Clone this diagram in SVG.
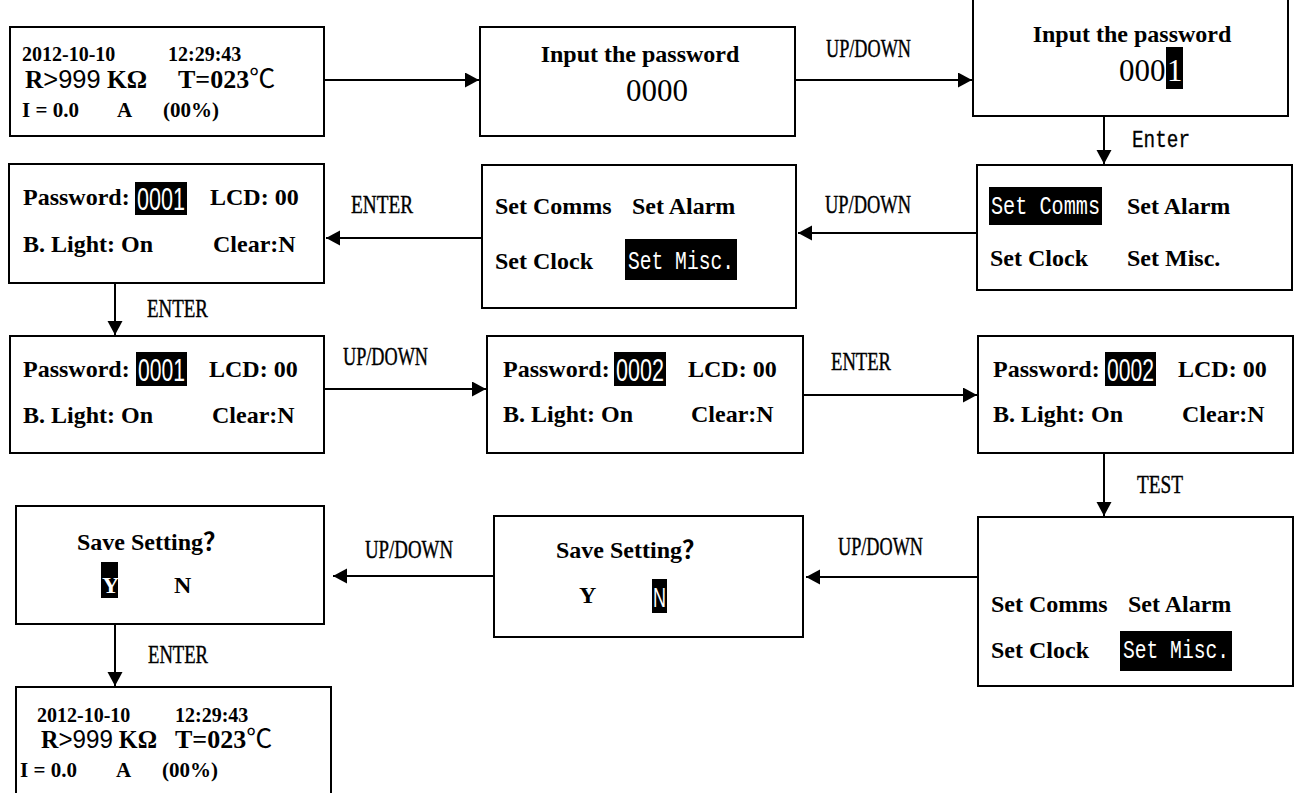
<svg xmlns="http://www.w3.org/2000/svg" width="1298" height="793" viewBox="0 0 1298 793">
<style>
.box{fill:#fff;stroke:#000;stroke-width:2}
.t{font-family:"Liberation Serif","Noto Sans CJK SC",serif;font-weight:bold;font-size:24px;fill:#000}
.r{font-weight:normal}
.lbl{font-family:"Liberation Serif",serif;font-size:25px;fill:#000;stroke:#000;stroke-width:0.4}
.mono{font-family:"Liberation Mono",monospace;font-size:23px;fill:#000;stroke:#000;stroke-width:0.3}
.hl{fill:#000}
.ht{fill:#fff;font-family:"Liberation Mono",monospace;font-size:25px}
.hn{fill:#fff;font-family:"Liberation Sans",sans-serif;font-size:31px}
.w{fill:#fff}
.conn{stroke:#000;stroke-width:2;fill:none;marker-end:url(#ah)}
</style>
<defs>
<marker id="ah" markerUnits="userSpaceOnUse" markerWidth="16" markerHeight="16" refX="14" refY="7.5" orient="auto">
<path d="M0,0 L14,7.5 L0,15 z" fill="#000"/>
</marker>
</defs>
<rect width="1298" height="793" fill="#fff"/>

<g id="connectors">
<path class="conn" d="M324,80 H479"/>
<path class="conn" d="M795,80 H972"/>
<text class="lbl" x="826" y="57" textLength="85" lengthAdjust="spacingAndGlyphs">UP/DOWN</text>
<path class="conn" d="M1104,116 V164"/>
<text class="mono" x="1132" y="147" textLength="58" lengthAdjust="spacingAndGlyphs">Enter</text>
<path class="conn" d="M977,233 H798"/>
<text class="lbl" x="825" y="213" textLength="86" lengthAdjust="spacingAndGlyphs">UP/DOWN</text>
<path class="conn" d="M482,238 H326"/>
<text class="lbl" x="351" y="213" textLength="62" lengthAdjust="spacingAndGlyphs">ENTER</text>
<path class="conn" d="M115,283 V335"/>
<text class="lbl" x="147" y="317" textLength="61" lengthAdjust="spacingAndGlyphs">ENTER</text>
<path class="conn" d="M324,389 H486"/>
<text class="lbl" x="343" y="365" textLength="85" lengthAdjust="spacingAndGlyphs">UP/DOWN</text>
<path class="conn" d="M803,395 H977"/>
<text class="lbl" x="831" y="370" textLength="60" lengthAdjust="spacingAndGlyphs">ENTER</text>
<path class="conn" d="M1104,453 V516"/>
<text class="lbl" x="1137" y="493" textLength="46" lengthAdjust="spacingAndGlyphs">TEST</text>
<path class="conn" d="M978,577 H806"/>
<text class="lbl" x="838" y="555" textLength="85" lengthAdjust="spacingAndGlyphs">UP/DOWN</text>
<path class="conn" d="M494,576 H333"/>
<text class="lbl" x="365" y="558" textLength="88" lengthAdjust="spacingAndGlyphs">UP/DOWN</text>
<path class="conn" d="M115,624 V686"/>
<text class="lbl" x="148" y="663" textLength="60" lengthAdjust="spacingAndGlyphs">ENTER</text>
</g>

<g id="statusA">
<rect class="box" x="10" y="27" width="314" height="109"/>
<text class="t" x="22" y="61" style="font-size:20px">2012-10-10</text>
<text class="t" x="168" y="61" style="font-size:20px">12:29:43</text>
<text class="t" x="25" y="88" style="font-size:26px" textLength="122" lengthAdjust="spacingAndGlyphs">R<tspan class="r" style="font-family:'Liberation Sans',sans-serif">&gt;999</tspan> KΩ</text>
<text class="t" x="178" y="88" style="font-size:26px">T=023<tspan class="r">℃</tspan></text>
<text class="t" x="22" y="117" style="font-size:21px">I = 0.0</text>
<text class="t" x="117" y="117" style="font-size:21px">A</text>
<text class="t" x="163" y="117" style="font-size:21px">(00%)</text>
</g>

<g id="pwdB">
<rect class="box" x="480" y="27" width="315" height="109"/>
<text class="t" x="640" y="62" text-anchor="middle">Input the password</text>
<text class="t r" x="626" y="101" style="font-size:31px">0000</text>
</g>

<g id="pwdC">
<rect class="box" x="973" y="-1" width="315" height="117"/>
<text class="t" x="1132" y="42" text-anchor="middle">Input the password</text>
<text class="t r" x="1119" y="81" style="font-size:31px">000</text>
<rect class="hl" x="1166" y="47" width="17" height="42"/>
<text class="t r w" x="1167" y="81" style="font-size:31px;fill:#fff">1</text>
</g>

<g id="menuD">
<rect class="box" x="977" y="165" width="315" height="125"/>
<rect class="hl" x="989" y="187" width="113" height="38"/>
<text class="ht" x="991" y="214" textLength="109" lengthAdjust="spacingAndGlyphs">Set Comms</text>
<text class="t" x="1127" y="214">Set Alarm</text>
<text class="t" x="990" y="266">Set Clock</text>
<text class="t" x="1127" y="266">Set Misc.</text>
</g>

<g id="menuE">
<rect class="box" x="482" y="165" width="314" height="143"/>
<text class="t" x="495" y="214">Set Comms</text>
<text class="t" x="632" y="214">Set Alarm</text>
<text class="t" x="495" y="269">Set Clock</text>
<rect class="hl" x="625" y="239" width="112" height="41"/>
<text class="ht" x="628" y="269" textLength="106" lengthAdjust="spacingAndGlyphs">Set Misc.</text>
</g>

<g id="miscF">
<rect class="box" x="9" y="164" width="315" height="119"/>
<text class="t" x="23" y="205">Password:</text>
<rect class="hl" x="135" y="182" width="52" height="33"/>
<text class="hn" x="137" y="210" textLength="48" lengthAdjust="spacingAndGlyphs">0001</text>
<text class="t" x="210" y="205">LCD: 00</text>
<text class="t" x="23" y="252">B. Light: On</text>
<text class="t" x="213" y="252">Clear:N</text>
</g>

<g id="miscG">
<rect class="box" x="10" y="336" width="314" height="117"/>
<text class="t" x="23" y="377">Password:</text>
<rect class="hl" x="136" y="352" width="51" height="34"/>
<text class="hn" x="138" y="381" textLength="47" lengthAdjust="spacingAndGlyphs">0001</text>
<text class="t" x="209" y="377">LCD: 00</text>
<text class="t" x="23" y="423">B. Light: On</text>
<text class="t" x="212" y="423">Clear:N</text>
</g>

<g id="miscH">
<rect class="box" x="487" y="336" width="316" height="117"/>
<text class="t" x="503" y="377">Password:</text>
<rect class="hl" x="614" y="352" width="52" height="34"/>
<text class="hn" x="616" y="381" textLength="48" lengthAdjust="spacingAndGlyphs">0002</text>
<text class="t" x="688" y="377">LCD: 00</text>
<text class="t" x="503" y="422">B. Light: On</text>
<text class="t" x="691" y="422">Clear:N</text>
</g>

<g id="miscI">
<rect class="box" x="978" y="336" width="315" height="117"/>
<text class="t" x="993" y="377">Password:</text>
<rect class="hl" x="1105" y="352" width="51" height="34"/>
<text class="hn" x="1107" y="381" textLength="47" lengthAdjust="spacingAndGlyphs">0002</text>
<text class="t" x="1178" y="377">LCD: 00</text>
<text class="t" x="993" y="422">B. Light: On</text>
<text class="t" x="1182" y="422">Clear:N</text>
</g>

<g id="menuJ">
<rect class="box" x="978" y="517" width="315" height="169"/>
<text class="t" x="991" y="612">Set Comms</text>
<text class="t" x="1128" y="612">Set Alarm</text>
<text class="t" x="991" y="658">Set Clock</text>
<rect class="hl" x="1120" y="631" width="112" height="40"/>
<text class="ht" x="1123" y="658" textLength="106" lengthAdjust="spacingAndGlyphs">Set Misc.</text>
</g>

<g id="saveL">
<rect class="box" x="494" y="516" width="309" height="121"/>
<text class="t" x="556" y="558">Save Setting？</text>
<text class="t" x="579" y="603">Y</text>
<rect class="hl" x="652" y="579" width="15" height="34"/>
<text class="hn" x="653" y="607" style="font-size:27px" textLength="13" lengthAdjust="spacingAndGlyphs">N</text>
</g>

<g id="saveK">
<rect class="box" x="16" y="506" width="308" height="118"/>
<text class="t" x="77" y="550">Save Setting？</text>
<rect class="hl" x="101" y="562" width="17" height="36"/>
<text class="t" x="102" y="593" style="fill:#fff">Y</text>
<text class="t" x="174" y="593">N</text>
</g>

<g id="statusM">
<rect class="box" x="16" y="687" width="315" height="120"/>
<text class="t" x="37" y="722" style="font-size:20px">2012-10-10</text>
<text class="t" x="175" y="722" style="font-size:20px">12:29:43</text>
<text class="t" x="41" y="748" style="font-size:26px" textLength="116" lengthAdjust="spacingAndGlyphs">R<tspan class="r" style="font-family:'Liberation Sans',sans-serif">&gt;999</tspan> KΩ</text>
<text class="t" x="175" y="748" style="font-size:26px">T=023<tspan class="r">℃</tspan></text>
<text class="t" x="20" y="777" style="font-size:21px">I = 0.0</text>
<text class="t" x="116" y="777" style="font-size:21px">A</text>
<text class="t" x="162" y="777" style="font-size:21px">(00%)</text>
</g>
</svg>
